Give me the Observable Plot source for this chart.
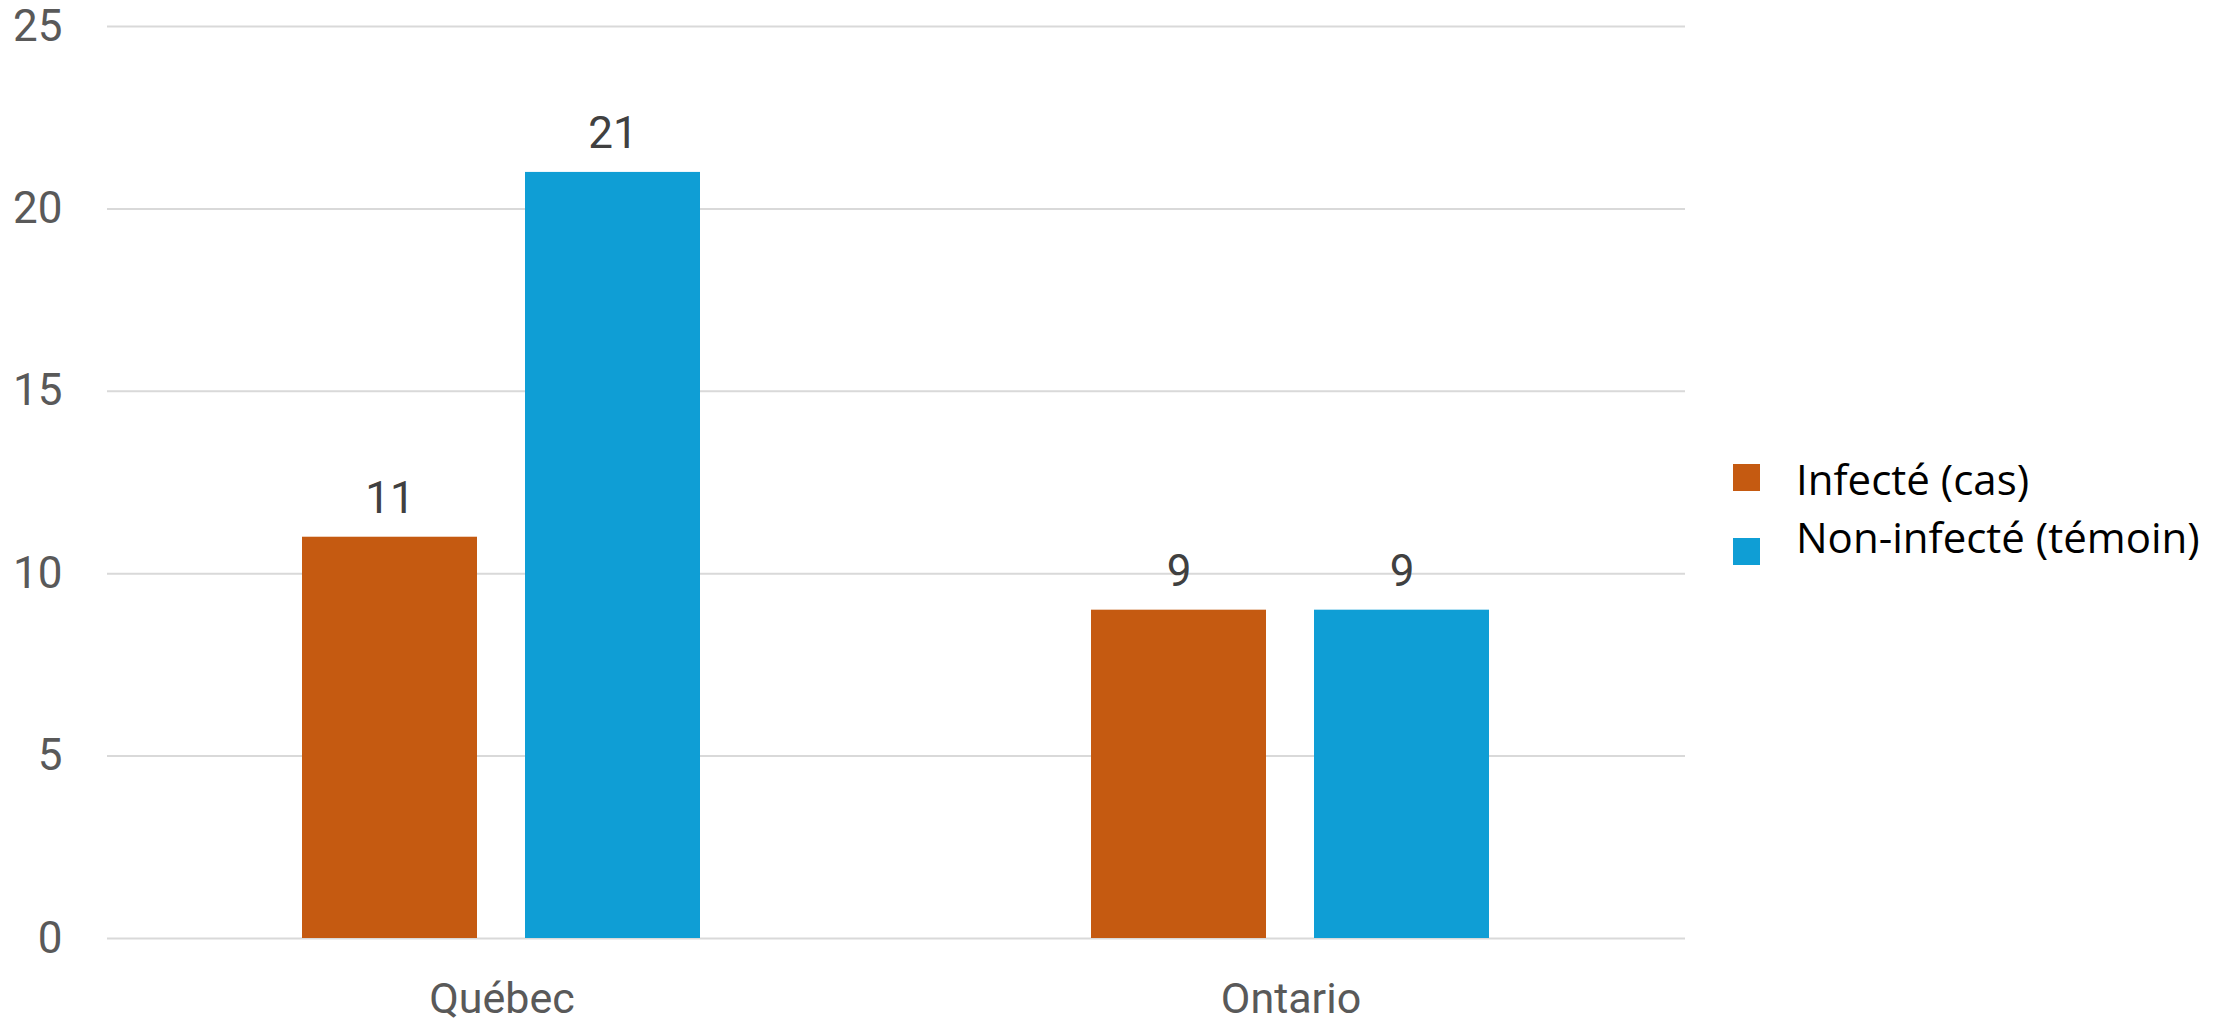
<!DOCTYPE html>
<html>
<head>
<meta charset="utf-8">
<script src="https://cdn.jsdelivr.net/npm/d3@7"></script>
<script src="https://cdn.jsdelivr.net/npm/@observablehq/plot@0.6"></script>
<style>
  html, body { margin: 0; padding: 0; background: #ffffff; }
  #wrap { position: relative; width: 2233px; height: 1022px; overflow: hidden; }
  .lg-sw { position: absolute; width: 27px; height: 27px; }
  .lg-tx { position: absolute; font-family: "Open Sans", Lato, sans-serif; font-size: 42px; line-height: 42px; color: #000000; white-space: nowrap; }
</style>
</head>
<body>
<div id="wrap"></div>
<script>
const regions = ["Québec", "Ontario"];
const series = ["Infecté (cas)", "Non-infecté (témoin)"];
const infecte = [11, 9];
const nonInfecte = [21, 9];
const colors = ["#C55A11", "#0F9ED5"];
const yTicks = [0, 5, 10, 15, 20, 25];

const data = [];
regions.forEach((r, i) => {
  data.push({region: r, series: series[0], value: infecte[i]});
  data.push({region: r, series: series[1], value: nonInfecte[i]});
});

const chart = Plot.plot({
  width: 2233,
  height: 1022,
  marginLeft: 107,
  marginRight: 548,
  marginTop: 26,
  marginBottom: 84,
  style: {fontFamily: "Roboto, 'Open Sans', sans-serif", background: "#ffffff"},
  fx: {domain: regions, padding: 0, label: null},
  x: {domain: series, paddingInner: 0.214, paddingOuter: 0.87, axis: null},
  y: {domain: [0, 25], ticks: yTicks, label: null},
  color: {domain: series, range: colors},
  marks: [
    Plot.gridY(yTicks, {stroke: "#d9d9d9", strokeOpacity: 1, strokeWidth: 2}),
    Plot.barY(data, {fx: "region", x: "series", y: "value", fill: "series"}),
    Plot.text(data, {fx: "region", x: "series", y: "value", text: d => String(d.value), dy: -24, lineAnchor: "bottom", fontSize: 44, fill: "#404040"}),
    Plot.axisY({ticks: yTicks, tickSize: 0, tickPadding: 45, fontSize: 44, color: "#595959", label: null}),
    Plot.axisFx({anchor: "bottom", tickSize: 0, tickPadding: 44, fontSize: 43, color: "#595959", label: null})
  ]
});

const wrap = document.getElementById("wrap");
wrap.appendChild(chart);

// legend (HTML, to the right of the plot)
const legendRows = [
  {sw: 464, tx: 458},
  {sw: 538, tx: 516}
];
series.forEach((s, i) => {
  const sw = document.createElement("div");
  sw.className = "lg-sw";
  sw.style.left = "1733px";
  sw.style.top = legendRows[i].sw + "px";
  sw.style.background = colors[i];
  wrap.appendChild(sw);
  const tx = document.createElement("div");
  tx.className = "lg-tx";
  tx.style.left = "1796px";
  tx.style.top = legendRows[i].tx + "px";
  tx.textContent = s;
  wrap.appendChild(tx);
});
</script>
</body>
</html>
